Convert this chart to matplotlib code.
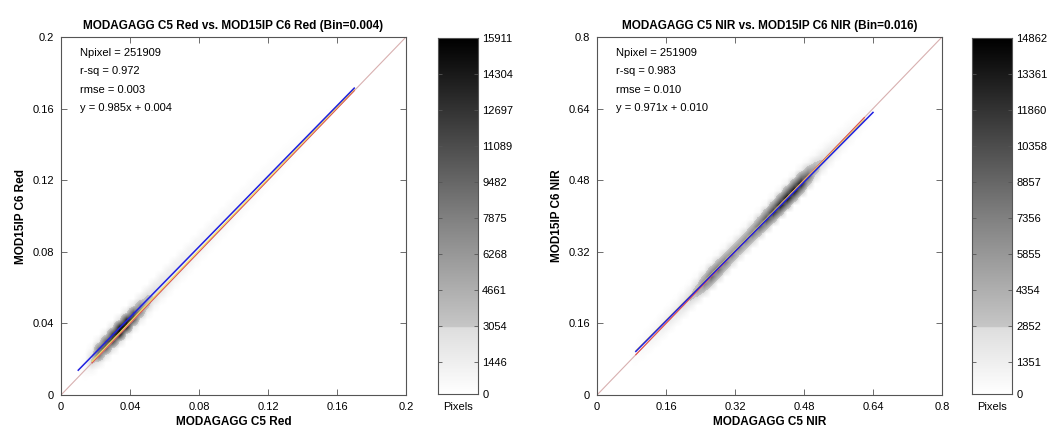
import numpy as np
import matplotlib
matplotlib.use("Agg")
import matplotlib.pyplot as plt
from matplotlib.colors import LinearSegmentedColormap

plt.rcParams["font.family"] = ["Liberation Sans", "DejaVu Sans"]

# ---------------- Red band (bin = 0.004) ----------------
red_bin = 0.004
red_nbins = 50
red_first_bin = 3
# counts in the diagonal cell (i, i) starting at red_first_bin
red_diag = [600, 3500, 9000, 10500, 12500, 15911, 15000, 11500, 7500, 4500,
            3000, 2400, 2000, 1700, 1500, 1350, 1200, 1100, 1000, 900,
            820, 750, 680, 620, 560, 500, 450, 400, 360, 320,
            280, 240, 200, 170, 140, 110, 80, 60, 40, 20]
# counts one cell above the diagonal (i, i+1)
red_upper = [500, 3000, 8500, 10000, 12000, 14800, 13800, 10500, 6800, 4000,
             2700, 2200, 1800, 1550, 1400, 1250, 1100, 1000, 900, 820,
             750, 680, 620, 560, 500, 450, 400, 360, 320, 280,
             240, 200, 170, 140, 110, 80, 60, 40, 30, 15]
# counts two cells above the diagonal (i, i+2)
red_upper2 = [100, 700, 1800, 2200, 2500, 2600, 2500, 2200, 1900, 1700,
              1500, 1350, 1200, 1100, 1000, 900, 820, 740, 680, 620,
              560, 500, 450, 400, 360, 320, 280, 240, 200, 170,
              140, 110, 90, 70, 50, 40, 30, 20, 10, 5]
# counts one cell below the diagonal (i, i-1)
red_lower = [150, 800, 1800, 2200, 2600, 2900, 2700, 2200, 1700, 1200,
             900, 750, 650, 560, 500, 450, 400, 360, 320, 290,
             260, 230, 200, 180, 160, 140, 120, 100, 90, 80,
             70, 60, 50, 40, 30, 20, 15, 10, 5, 5]
red_cbar_ticks = [0, 1446, 3054, 4661, 6268, 7875, 9482, 11089, 12697, 14304, 15911]
red_axis_ticks = [0, 0.04, 0.08, 0.12, 0.16, 0.2]
red_stats = ["Npixel = 251909", "r-sq = 0.972", "rmse = 0.003", "y = 0.985x + 0.004"]
red_fit = (0.985, 0.004)
red_fit_range = (0.010, 0.170)
red_alt_fit = (1.0, 0.0008)
red_alt_range = (0.018, 0.170)

# ---------------- NIR band (bin = 0.016) ----------------
nir_bin = 0.016
nir_nbins = 50
nir_first_bin = 5
nir_diag = [300, 600, 900, 1200, 1500, 1800, 2200, 2800, 3500, 5000,
            7500, 9500, 9000, 8000, 7200, 6800, 7200, 8000, 9500, 11000,
            12500, 14000, 14862, 14862, 14000, 9500, 5500, 3500, 2500, 1800,
            1300, 1000, 700, 450, 250, 120]
nir_upper = [150, 300, 450, 600, 750, 900, 1100, 1400, 1800, 2700,
             4000, 5000, 4800, 4300, 3900, 3700, 3900, 4300, 5100, 6000,
             6800, 7600, 8000, 8000, 7500, 5000, 2900, 1800, 1300, 950,
             700, 530, 370, 240, 130, 60]
nir_lower = [120, 250, 380, 500, 630, 760, 920, 1200, 1500, 2200,
             3400, 4300, 4100, 3700, 3300, 3100, 3300, 3700, 4300, 5000,
             5800, 6500, 6900, 6900, 6400, 4300, 2500, 1550, 1100, 800,
             580, 450, 310, 200, 110, 50]
nir_upper2 = [20, 50, 80, 100, 120, 150, 180, 220, 280, 400,
              550, 650, 620, 600, 560, 520, 540, 600, 680, 800,
              920, 1040, 1120, 1180, 1080, 720, 440, 280, 200, 140,
              100, 80, 60, 40, 20, 10]
nir_cbar_ticks = [0, 1351, 2852, 4354, 5855, 7356, 8857, 10358, 11860, 13361, 14862]
nir_axis_ticks = [0, 0.16, 0.32, 0.48, 0.64, 0.8]
nir_stats = ["Npixel = 251909", "r-sq = 0.983", "rmse = 0.010", "y = 0.971x + 0.010"]
nir_fit = (0.971, 0.010)
nir_fit_range = (0.090, 0.640)
nir_alt_fit = (0.975, 0.011)
nir_alt_range = (0.090, 0.620)

# grey palette with a step at the low end
pal = LinearSegmentedColormap.from_list(
    "pixels",
    [(0.0, (1.0, 1.0, 1.0)), (0.185, (0.87, 0.87, 0.87)),
     (0.186, (0.78, 0.78, 0.78)), (0.5, (0.50, 0.50, 0.50)),
     (1.0, (0.0, 0.0, 0.0))])


def build_grid(n, first, diag, upper, upper2, lower):
    g = np.zeros((n, n))
    for k, c in enumerate(diag):
        i = first + k
        g[i, i] += c
        if i + 1 < n:
            g[i + 1, i] += upper[k]
        if i + 2 < n:
            g[i + 2, i] += upper2[k]
        if i - 1 >= 0:
            g[i - 1, i] += lower[k]
    return g


def panel(fig, ax_rect, cb_rect, grid, vmax, lim, ticks, cticks, stats,
          fit, fit_range, alt, alt_range, title, xlabel, ylabel):
    ax = fig.add_axes(ax_rect)
    ax.imshow(grid, origin="lower", extent=(0, lim, 0, lim), cmap=pal,
              vmin=0, vmax=vmax, interpolation="bilinear", aspect="auto",
              zorder=1)
    ax.plot([0, lim], [0, lim], color="#d8b0b0", lw=0.8, zorder=2)
    xs = np.array(alt_range)
    ax.plot(xs, xs, color="#e05050", lw=0.8, zorder=3)
    ax.plot(xs, alt[0] * xs + alt[1], color="#f0e060", lw=0.8, zorder=3)
    xf = np.array(fit_range)
    ax.plot(xf, fit[0] * xf + fit[1], color="#2020e0", lw=1.1, zorder=4)
    ax.set_xlim(0, lim)
    ax.set_ylim(0, lim)
    ax.set_xticks(ticks)
    ax.set_yticks(ticks)
    lbl = [("%g" % t) for t in ticks]
    ax.set_xticklabels(lbl)
    ax.set_yticklabels(lbl)
    ax.tick_params(direction="in", top=True, right=True, length=4,
                   width=0.6, labelsize=8, color="#555555", pad=5)
    for s in ax.spines.values():
        s.set_color("#555555")
        s.set_linewidth(0.8)
    ax.set_title(title, fontsize=8.5, fontweight="bold", pad=6)
    ax.set_xlabel(xlabel, fontsize=8.5, fontweight="bold", labelpad=3)
    ax.set_ylabel(ylabel, fontsize=8.5, fontweight="bold", labelpad=4)
    for k, s in enumerate(stats):
        ax.text(0.055, 0.955 - k * 0.051, s, transform=ax.transAxes,
                fontsize=8, va="center", ha="left")

    cax = fig.add_axes(cb_rect)
    grad = np.linspace(0, vmax, 256).reshape(-1, 1)
    cax.imshow(grad, origin="lower", extent=(0, 1, 0, vmax), cmap=pal,
               vmin=0, vmax=vmax, aspect="auto")
    cax.set_xlim(0, 1)
    cax.set_ylim(0, vmax)
    cax.set_xticks([])
    cax.set_yticks(cticks)
    cax.set_yticklabels([str(t) for t in cticks])
    cax.yaxis.tick_right()
    cax.tick_params(axis="y", direction="in", left=True, right=True,
                    length=3, width=0.6, labelsize=8, color="#555555", pad=3)
    for s in cax.spines.values():
        s.set_color("#555555")
        s.set_linewidth(0.8)
    cax.set_xlabel("Pixels", fontsize=8, labelpad=6)
    return ax, cax


W, H = 1051, 433
fig = plt.figure(figsize=(W / 100, H / 100), dpi=100)


def rect(x0, x1, y0, y1):
    return [x0 / W, (H - y1) / H, (x1 - x0) / W, (y1 - y0) / H]


red_grid = build_grid(red_nbins, red_first_bin, red_diag, red_upper, red_upper2, red_lower)
nir_grid = build_grid(nir_nbins, nir_first_bin, nir_diag, nir_upper, nir_upper2, nir_lower)

panel(fig, rect(61, 406, 37, 395), rect(438, 478, 38, 394), red_grid,
      max(red_cbar_ticks), red_bin * red_nbins, red_axis_ticks, red_cbar_ticks,
      red_stats, red_fit, red_fit_range, red_alt_fit, red_alt_range,
      "MODAGAGG C5 Red vs. MOD15IP C6 Red (Bin=0.004)",
      "MODAGAGG C5 Red", "MOD15IP C6 Red")
panel(fig, rect(597, 942, 37, 395), rect(972, 1012, 38, 394), nir_grid,
      max(nir_cbar_ticks), nir_bin * nir_nbins, nir_axis_ticks, nir_cbar_ticks,
      nir_stats, nir_fit, nir_fit_range, nir_alt_fit, nir_alt_range,
      "MODAGAGG C5 NIR vs. MOD15IP C6 NIR (Bin=0.016)",
      "MODAGAGG C5 NIR", "MOD15IP C6 NIR")

fig.savefig("out.png", dpi=100, facecolor="white")
